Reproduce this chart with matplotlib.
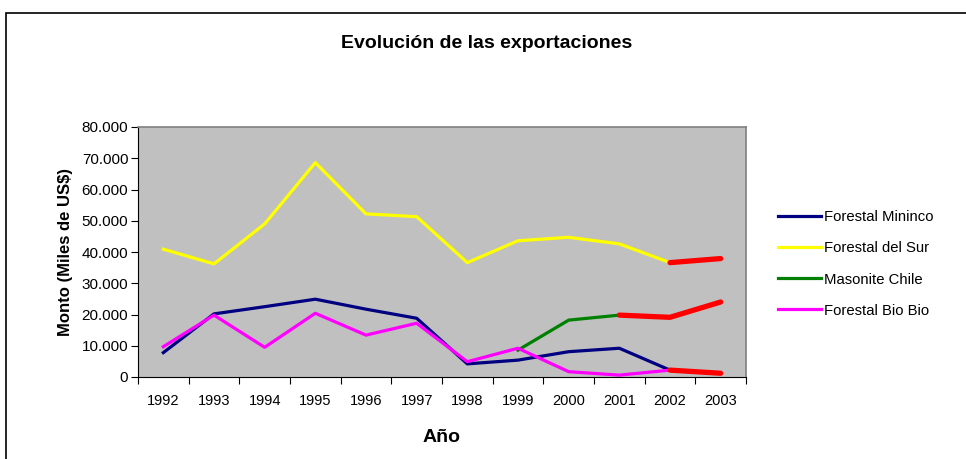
import numpy as np
import matplotlib.pyplot as plt
from matplotlib.patches import Rectangle
from matplotlib.ticker import FuncFormatter

plt.rcParams['font.family'] = ['Liberation Sans', 'DejaVu Sans']

# Data (miles de US$)
years = ['1992', '1993', '1994', '1995', '1996', '1997', '1998', '1999', '2000', '2001', '2002', '2003']
mininco = [7800, 20200, 22500, 24900, 21700, 18800, 4200, 5400, 8100, 9200, 2200, np.nan]
del_sur = [40900, 36200, 49000, 68600, 52200, 51300, 36600, 43600, 44700, 42600, 36600, np.nan]
masonite = [np.nan, np.nan, np.nan, np.nan, np.nan, np.nan, np.nan, 8600, 18200, 19800, np.nan, np.nan]
bio_bio = [9700, 19800, 9500, 20400, 13400, 17200, 4900, 9200, 1700, 600, 2200, np.nan]

# highlighted (red) final stretches
sur_red = [np.nan] * 10 + [36600, 37900]
masonite_red = [np.nan] * 9 + [19800, 19100, 24000]
bio_red = [np.nan] * 10 + [2200, 1200]

x = np.arange(len(years))

fig = plt.figure(figsize=(9.66, 4.59), dpi=100)
fig.patches.append(Rectangle((6 / 966, -0.1), 1.2, 1 - 13 / 459 + 0.1,
                             transform=fig.transFigure, fill=False,
                             edgecolor='black', linewidth=1.2))
ax = fig.add_axes([138 / 966, 82 / 459, 608 / 966, 250 / 459])
ax.set_facecolor('#C0C0C0')

ax.plot(x, mininco, color='#000080', lw=2.3, label='Forestal Mininco')
ax.plot(x, del_sur, color='#FFFF00', lw=2.3, label='Forestal del Sur')
ax.plot(x, masonite, color='#008000', lw=2.3, label='Masonite Chile')
ax.plot(x, bio_bio, color='#FF00FF', lw=2.3, label='Forestal Bio Bio')
for s in (sur_red, masonite_red, bio_red):
    ax.plot(x, s, color='#FF0000', lw=3.8, solid_capstyle='round')

ax.set_xlim(-0.5, 11.5)
ax.set_ylim(0, 80000)
ax.set_yticks(np.arange(0, 80001, 10000))
ax.yaxis.set_major_formatter(FuncFormatter(lambda v, p: f'{int(v):,}'.replace(',', '.')))
ax.set_xticks(np.arange(-0.5, 12, 1))
ax.set_xticklabels([])
ax.set_xticks(x, minor=True)
ax.set_xticklabels(years, minor=True)
ax.tick_params(axis='x', which='minor', length=0, pad=12, labelsize=10.5)
ax.tick_params(axis='x', which='major', length=5, width=0.8)
ax.tick_params(axis='y', length=5, width=0.8, labelsize=11, pad=2)

for side in ('top', 'right'):
    ax.spines[side].set_color('#808080')
    ax.spines[side].set_linewidth(1.2)

fig.text(487 / 966, 1 - 43 / 459, 'Evolución de las exportaciones', ha='center', va='center',
         fontsize=14, fontweight='bold')
ax.set_ylabel('Monto (Miles de US$)', fontsize=12, fontweight='bold', labelpad=6)
ax.set_xlabel('Año', fontsize=14, fontweight='bold', labelpad=15)

handles, labels = ax.get_legend_handles_labels()
fig.legend(handles[:4], labels[:4], loc='center left', bbox_to_anchor=(765 / 966, 1 - 264 / 459),
           frameon=False, fontsize=10.7, handlelength=2.9, labelspacing=1.15, handletextpad=0.15)

fig.savefig('out.png', dpi=100)
